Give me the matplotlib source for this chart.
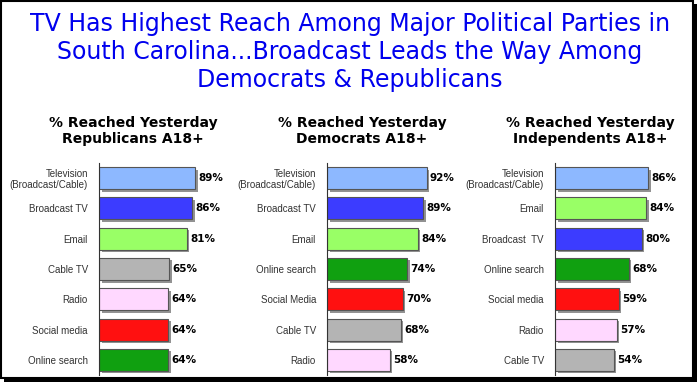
import matplotlib
matplotlib.use('Agg')
import matplotlib.pyplot as plt
import matplotlib.patheffects as pe
from matplotlib.patches import Rectangle

# colours per media type
colors = {
    'Television\n(Broadcast/Cable)': '#8db8ff',
    'Broadcast TV': '#3c3cff',
    'Broadcast  TV': '#3c3cff',
    'Email': '#99ff66',
    'Cable TV': '#b4b4b4',
    'Radio': '#ffd8ff',
    'Social media': '#ff1010',
    'Social Media': '#ff1010',
    'Online search': '#10a010',
}

rep_labels = ['Television\n(Broadcast/Cable)', 'Broadcast TV', 'Email', 'Cable TV',
              'Radio', 'Social media', 'Online search']
rep_values = [89, 86, 81, 65, 64, 64, 64]

dem_labels = ['Television\n(Broadcast/Cable)', 'Broadcast TV', 'Email', 'Online search',
              'Social Media', 'Cable TV', 'Radio']
dem_values = [92, 89, 84, 74, 70, 68, 58]

ind_labels = ['Television\n(Broadcast/Cable)', 'Email', 'Broadcast  TV', 'Online search',
              'Social media', 'Radio', 'Cable TV']
ind_values = [86, 84, 80, 68, 59, 57, 54]

titles = ['% Reached Yesterday\nRepublicans A18+',
          '% Reached Yesterday\nDemocrats A18+',
          '% Reached Yesterday\nIndependents A18+']

W, H = 700, 382
fig = plt.figure(figsize=(W / 100, H / 100), dpi=100)
fig.patch.set_facecolor('white')

# frame with shadow on right/bottom
fig.patches.append(Rectangle((4 / W, 0), (W - 7) / W, (H - 4) / H, transform=fig.transFigure,
                             facecolor='black', edgecolor='none', zorder=0))
fig.patches.append(Rectangle((1 / W, 4 / H), (W - 8) / W, (H - 5) / H, transform=fig.transFigure,
                             facecolor='white', edgecolor='black', lw=1.5, zorder=1))

fig.text(0.5, 1 - 52 / H,
         'TV Has Highest Reach Among Major Political Parties in\n'
         'South Carolina...Broadcast Leads the Way Among\n'
         'Democrats & Republicans',
         ha='center', va='center', color='#0000ee', fontsize=17, linespacing=1.2,
         zorder=5)

panels = [(rep_labels, rep_values, 99, 133), (dem_labels, dem_values, 327, 362),
          (ind_labels, ind_values, 555, 590)]

for i, (labels, vals, left, tx) in enumerate(panels):
    ax = fig.add_axes([left / W, 1 - 375 / H, 130 / W, 212 / H], zorder=3)
    ax.set_facecolor('none')
    ypos = list(range(len(vals)))
    bars = ax.barh(ypos, vals, height=0.73, color=[colors[l] for l in labels],
                   edgecolor='#555555', linewidth=0.8)
    for b in bars:
        b.set_path_effects([pe.SimplePatchShadow(offset=(1.8, -1.8), shadow_rgbFace='#777777', alpha=0.8),
                            pe.Normal()])
    for y, v in zip(ypos, vals):
        ax.text(v + 3, y, f'{v}%', va='center', ha='left', fontsize=7.5, fontweight='bold')
    ax.set_xlim(0, 120)
    ax.set_ylim(6.5, -0.5)
    ax.set_yticks(ypos)
    ax.set_yticklabels(labels, fontsize=7, color='#333333', linespacing=1.05,
                       family='Liberation Sans')
    ax.tick_params(axis='y', length=0, pad=8)
    ax.set_xticks([])
    for s in ['top', 'right', 'bottom']:
        ax.spines[s].set_visible(False)
    ax.spines['left'].set_color('#333333')
    ax.spines['left'].set_linewidth(0.8)
    fig.text(tx / W, 1 - 131 / H, titles[i], ha='center', va='center', fontsize=10,
             fontweight='bold', linespacing=1.2, zorder=5)

fig.savefig('out.png', dpi=100)
